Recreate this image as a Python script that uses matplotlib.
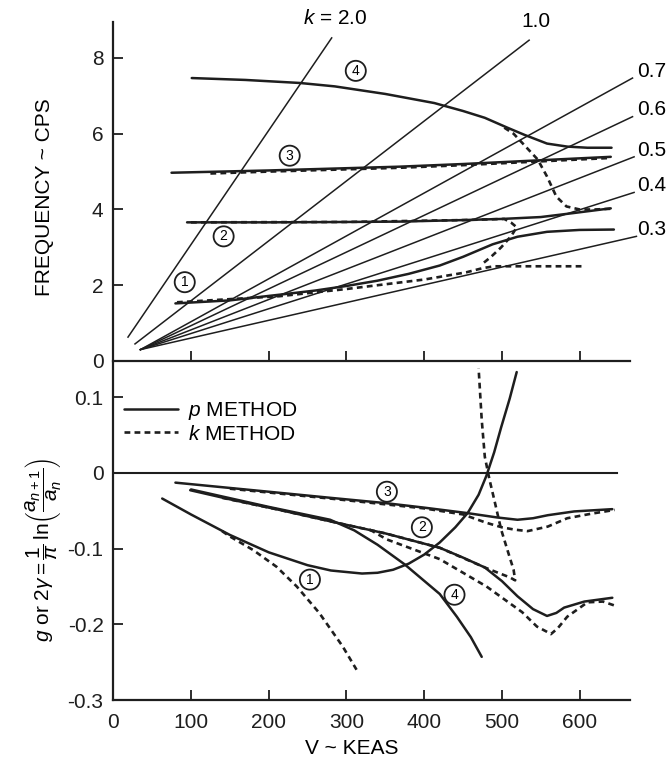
import numpy as np
import matplotlib
matplotlib.use("Agg")
from matplotlib import pyplot as plt
from matplotlib.lines import Line2D

plt.rcParams['font.family'] = ['Liberation Sans', 'DejaVu Sans']
plt.rcParams['mathtext.fontset'] = 'custom'
plt.rcParams['mathtext.rm'] = 'Liberation Sans'
plt.rcParams['mathtext.it'] = 'Liberation Sans:italic'
plt.rcParams['axes.unicode_minus'] = False
plt.rcParams['font.size'] = 15

# ---- frequency vs speed (p method solid, k method dashed) ----
f1_p_v = [80, 150, 214, 260, 300, 340, 380, 420, 450, 488, 520, 558, 600, 644]
f1_p = [1.52, 1.60, 1.75, 1.86, 1.98, 2.12, 2.3, 2.52, 2.75, 3.08, 3.28, 3.41, 3.46, 3.47]
f1_k_v = [82, 214, 300, 400, 454, 475, 490, 540, 605]
f1_k = [1.55, 1.71, 1.9, 2.15, 2.34, 2.45, 2.5, 2.5, 2.5]

f2_p_v = [95, 200, 300, 368, 450, 500, 550, 590, 640]
f2_p = [3.66, 3.66, 3.67, 3.68, 3.72, 3.75, 3.8, 3.9, 4.03]
f2_k_v = [100, 300, 450, 503, 512, 519, 512, 499, 486, 474]
f2_k = [3.66, 3.67, 3.72, 3.75, 3.65, 3.53, 3.3, 3.0, 2.75, 2.55]

f3_p_v = [75, 200, 368, 450, 550, 640]
f3_p = [4.97, 5.03, 5.13, 5.2, 5.3, 5.39]
f3_k_v = [125, 200, 368, 450, 550, 640]
f3_k = [4.95, 5.0, 5.1, 5.17, 5.27, 5.36]

f4_p_v = [101, 170, 240, 285, 350, 413, 450, 478, 507, 529, 558, 584, 610, 641]
f4_p = [7.47, 7.42, 7.34, 7.25, 7.05, 6.81, 6.6, 6.42, 6.16, 5.97, 5.74, 5.66, 5.63, 5.63]
f4_k_v = [503, 515, 526, 546, 558, 570, 583, 600, 620, 642]
f4_k = [6.16, 6.0, 5.76, 5.32, 4.87, 4.34, 4.08, 4.0, 4.0, 4.02]

# constant reduced frequency lines: (v start, f start, v end, f end)
k_values = ['2.0', '1.0', '0.7', '0.6', '0.5', '0.4', '0.3']
k_v0 = [19, 28, 35, 35, 35, 35, 35]
k_f0 = [0.63, 0.45, 0.3, 0.3, 0.3, 0.3, 0.3]
k_v1 = [281, 535, 668, 668, 670, 670, 673]
k_f1 = [8.53, 8.47, 7.47, 6.45, 5.39, 4.45, 3.29]

# ---- damping vs speed ----
g1_p_v = [63, 100, 150, 200, 250, 280, 300, 320, 340, 360, 380, 400, 420,
          440, 456, 470, 480, 490, 499, 510, 519]
g1_p = [-0.034, -0.055, -0.082, -0.105, -0.122, -0.129, -0.131, -0.133, -0.132,
        -0.128, -0.12, -0.108, -0.092, -0.072, -0.053, -0.029, -0.004, 0.027,
        0.06, 0.098, 0.133]
g1_k_v = [140, 150, 180, 210, 236, 265, 295, 313]
g1_k = [-0.077, -0.084, -0.102, -0.124, -0.15, -0.185, -0.229, -0.26]

g2_p_v = [99, 150, 214, 279, 350, 420, 450, 478, 500, 520, 540, 558, 570, 580, 606, 642]
g2_p = [-0.023, -0.035, -0.049, -0.064, -0.08, -0.099, -0.112, -0.125, -0.143,
        -0.163, -0.18, -0.189, -0.185, -0.178, -0.17, -0.165]
g2_k_v = [140, 214, 279, 350, 420, 478, 495, 510, 517, 515, 508, 499, 490, 484, 478, 474, 470]
g2_k = [-0.033, -0.049, -0.064, -0.08, -0.099, -0.125, -0.132, -0.138, -0.142,
        -0.128, -0.105, -0.075, -0.035, -0.009, 0.021, 0.07, 0.138]
g2b_k_v = [330, 352, 420, 480, 526, 545, 558, 563, 572, 584, 610, 630, 647]
g2b_k = [-0.075, -0.088, -0.114, -0.15, -0.184, -0.203, -0.21, -0.213, -0.205,
         -0.19, -0.171, -0.17, -0.176]

g3_p_v = [80, 150, 200, 279, 350, 400, 454, 494, 520, 540, 559, 593, 642]
g3_p = [-0.013, -0.02, -0.025, -0.033, -0.040, -0.046, -0.053, -0.059, -0.062,
        -0.06, -0.056, -0.051, -0.048]
g3_k_v = [150, 279, 400, 450, 480, 500, 516, 533, 559, 584, 615, 645]
g3_k = [-0.021, -0.034, -0.047, -0.055, -0.066, -0.072, -0.075, -0.077, -0.071,
        -0.06, -0.054, -0.049]

g4_p_v = [100, 200, 279, 310, 340, 375, 420, 442, 460, 474]
g4_p = [-0.022, -0.045, -0.062, -0.076, -0.095, -0.121, -0.16, -0.19, -0.217, -0.243]

# mode number tags
mode_names = ['1', '2', '3', '4']
tag_top_v = [92, 142, 227, 312]
tag_top_f = [2.08, 3.29, 5.42, 7.66]
tag_bot_v = [253, 397, 352, 439]
tag_bot_g = [-0.141, -0.072, -0.025, -0.161]

solid = dict(color='#1e1e1e', lw=1.8, solid_capstyle='round', solid_joinstyle='round')
dashed = dict(color='#1e1e1e', lw=1.9, linestyle=(0, (2.2, 1.6)))
thin = dict(color='#1e1e1e', lw=1.1)

fig = plt.figure(figsize=(6.7, 7.69), dpi=100)
ax1 = fig.add_axes([0.169, 0.5306, 0.7716, 0.4408])
ax2 = fig.add_axes([0.169, 0.0897, 0.7716, 0.4383])

# top panel
for v0, f0, v1, f1 in zip(k_v0, k_f0, k_v1, k_f1):
    ax1.plot([v0, v1], [f0, f1], clip_on=False, **thin)

ax1.plot(f1_p_v, f1_p, **solid)
ax1.plot(f2_p_v, f2_p, **solid)
ax1.plot(f3_p_v, f3_p, **solid)
ax1.plot(f4_p_v, f4_p, **solid)
ax1.plot(f1_k_v, f1_k, **dashed)
ax1.plot(f2_k_v, f2_k, **dashed)
ax1.plot(f3_k_v, f3_k, **dashed)
ax1.plot(f4_k_v, f4_k, **dashed)

ax1.text(k_v1[0] + 4, 9.05, r'$k$ = ' + k_values[0], ha='center', va='center', fontsize=15)
ax1.text(k_v1[1] + 9, 8.95, k_values[1], ha='center', va='center', fontsize=15)
for lab, f1 in zip(k_values[2:], k_f1[2:]):
    ax1.text(674, f1 + 0.18, lab, ha='left', va='center', fontsize=15, clip_on=False)

circ = dict(boxstyle='circle,pad=0.22', fc='white', ec='#1e1e1e', lw=1.3)
for name, v, f in zip(mode_names, tag_top_v, tag_top_f):
    ax1.text(v, f, name, ha='center', va='center', fontsize=10, bbox=circ)

ax1.set_xlim(0, 665)
ax1.set_ylim(0, 8.95)
ax1.set_xticks([100, 200, 300, 400, 500, 600])
ax1.set_xticklabels([])
ax1.set_yticks([0, 2, 4, 6, 8])
ax1.set_yticklabels(['0', '2', '4', '6', '8'])
ax1.set_ylabel('FREQUENCY ~ CPS')
ax1.yaxis.set_label_coords(-0.114, 0.484)

# bottom panel
ax2.plot([0, 648], [0, 0], color='#1e1e1e', lw=1.5)
ax2.plot(g1_p_v, g1_p, **solid)
ax2.plot(g2_p_v, g2_p, **solid)
ax2.plot(g3_p_v, g3_p, **solid)
ax2.plot(g4_p_v, g4_p, **solid)
ax2.plot(g1_k_v, g1_k, **dashed)
ax2.plot(g2_k_v, g2_k, **dashed)
ax2.plot(g2b_k_v, g2b_k, **dashed)
ax2.plot(g3_k_v, g3_k, **dashed)

for name, v, g in zip(mode_names, tag_bot_v, tag_bot_g):
    ax2.text(v, g, name, ha='center', va='center', fontsize=10, bbox=circ)

handles = [Line2D([], [], **solid), Line2D([], [], **dashed)]
ax2.legend(handles, [r'$p$ METHOD', r'$k$ METHOD'], loc='upper left',
           bbox_to_anchor=(0.02, 0.89), frameon=False, borderpad=0,
           borderaxespad=0, handlelength=2.6, handletextpad=0.5,
           labelspacing=0.12, fontsize=15)

ax2.set_xlim(0, 665)
ax2.set_ylim(-0.3, 0.145)
ax2.set_xticks([0, 100, 200, 300, 400, 500, 600])
ax2.set_xticklabels(['0', '100', '200', '300', '400', '500', '600'])
ax2.set_yticks([0.1, 0, -0.1, -0.2, -0.3])
ax2.set_yticklabels(['0.1', '0', '-0.1', '-0.2', '-0.3'])
ax2.set_xlabel('V ~ KEAS')
ax2.xaxis.set_label_coords(0.462, -0.115)
ax2.set_ylabel(r'$g$ or 2$\gamma = \dfrac{1}{\pi}\,\mathrm{ln}\left(\dfrac{a_{n+1}}{a_n}\right)$')
ax2.yaxis.set_label_coords(-0.097, 0.445)

for ax in (ax1, ax2):
    for side in ('top', 'right'):
        ax.spines[side].set_visible(False)
    for side in ('left', 'bottom'):
        ax.spines[side].set_linewidth(1.6)
        ax.spines[side].set_color('#1e1e1e')
    ax.tick_params(direction='in', length=7, width=1.3, color='#1e1e1e',
                   labelsize=15, labelcolor='#1e1e1e')
    ax.tick_params(axis='y', pad=7)
    ax.tick_params(axis='x', pad=9)

fig.savefig('out.png', dpi=100)
